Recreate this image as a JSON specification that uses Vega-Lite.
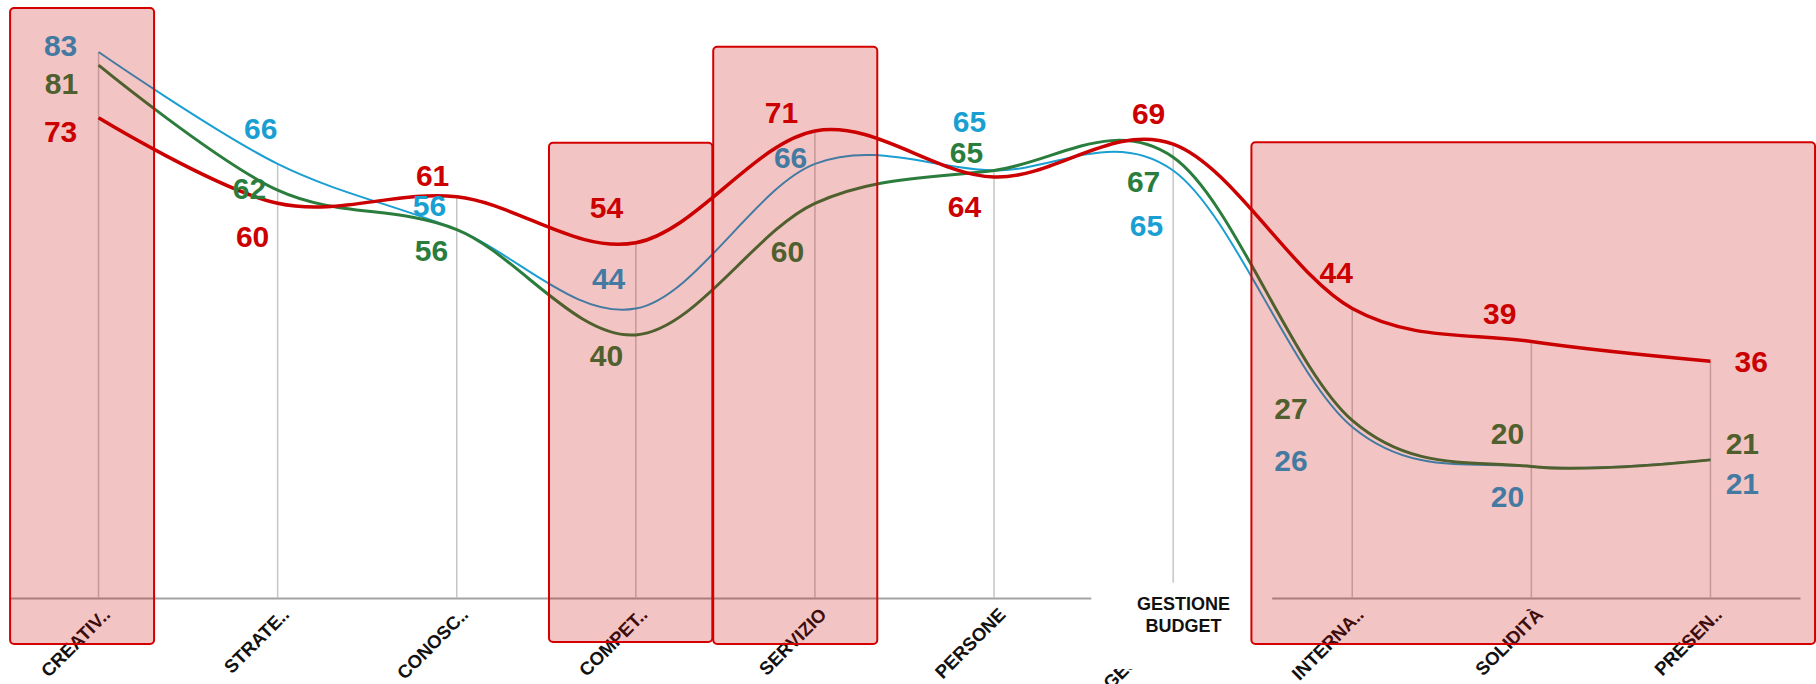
{
  "$schema": "https://vega.github.io/schema/vega-lite/v6.json",
  "width": 1791,
  "height": 592,
  "autosize": {"type": "none"},
  "padding": {"left": 9, "top": 6, "right": 16, "bottom": 86},
  "background": "white",
  "config": {
    "view": {"stroke": null},
    "font": "Liberation Sans",
    "axisX": {
      "grid": false,
      "ticks": false,
      "domainColor": "#a3a3a3",
      "domainWidth": 2,
      "labelAngle": -45,
      "labelAlign": "right",
      "labelBaseline": "middle",
      "labelFont": "Liberation Sans",
      "labelFontSize": 18.5,
      "labelFontWeight": "bold",
      "labelColor": "#111111",
      "labelPadding": 13,
      "labelOffset": 8,
      "labelLimit": 0,
      "labelOverlap": false,
      "zindex": 0,
      "title": null
    }
  },
  "datasets": {
    "scores": [
      {"categoria": "CREATIVITÀ", "pos": 0, "serie": "C", "valore": 83, "lx": -0.212, "ly": 83.7},
      {"categoria": "CREATIVITÀ", "pos": 0, "serie": "B", "valore": 81, "lx": -0.207, "ly": 78.0},
      {"categoria": "CREATIVITÀ", "pos": 0, "serie": "A", "valore": 73, "lx": -0.212, "ly": 70.7},
      {"categoria": "STRATEGIA", "pos": 1, "serie": "C", "valore": 66, "lx": 0.905, "ly": 71.1},
      {"categoria": "STRATEGIA", "pos": 1, "serie": "B", "valore": 62, "lx": 0.843, "ly": 62.0},
      {"categoria": "STRATEGIA", "pos": 1, "serie": "A", "valore": 60, "lx": 0.86, "ly": 54.7},
      {"categoria": "CONOSCENZA", "pos": 2, "serie": "C", "valore": 56, "lx": 1.848, "ly": 59.4},
      {"categoria": "CONOSCENZA", "pos": 2, "serie": "B", "valore": 56, "lx": 1.859, "ly": 52.6},
      {"categoria": "CONOSCENZA", "pos": 2, "serie": "A", "valore": 61, "lx": 1.865, "ly": 64.0},
      {"categoria": "COMPETENZA", "pos": 3, "serie": "C", "valore": 44, "lx": 2.848, "ly": 48.3},
      {"categoria": "COMPETENZA", "pos": 3, "serie": "B", "valore": 40, "lx": 2.836, "ly": 36.6},
      {"categoria": "COMPETENZA", "pos": 3, "serie": "A", "valore": 54, "lx": 2.836, "ly": 59.1},
      {"categoria": "SERVIZIO", "pos": 4, "serie": "C", "valore": 66, "lx": 3.864, "ly": 66.7},
      {"categoria": "SERVIZIO", "pos": 4, "serie": "B", "valore": 60, "lx": 3.847, "ly": 52.4},
      {"categoria": "SERVIZIO", "pos": 4, "serie": "A", "valore": 71, "lx": 3.813, "ly": 73.6},
      {"categoria": "PERSONE", "pos": 5, "serie": "C", "valore": 65, "lx": 4.863, "ly": 72.2},
      {"categoria": "PERSONE", "pos": 5, "serie": "B", "valore": 65, "lx": 4.846, "ly": 67.5},
      {"categoria": "PERSONE", "pos": 5, "serie": "A", "valore": 64, "lx": 4.835, "ly": 59.3},
      {"categoria": "GESTIONE BUDGET", "pos": 6, "serie": "C", "valore": 65, "lx": 5.851, "ly": 56.4},
      {"categoria": "GESTIONE BUDGET", "pos": 6, "serie": "B", "valore": 67, "lx": 5.835, "ly": 63.1},
      {"categoria": "GESTIONE BUDGET", "pos": 6, "serie": "A", "valore": 69, "lx": 5.863, "ly": 73.4},
      {"categoria": "INTERNAZIONALIZZAZIONE", "pos": 7, "serie": "C", "valore": 26, "lx": 6.658, "ly": 20.7},
      {"categoria": "INTERNAZIONALIZZAZIONE", "pos": 7, "serie": "B", "valore": 27, "lx": 6.658, "ly": 28.6},
      {"categoria": "INTERNAZIONALIZZAZIONE", "pos": 7, "serie": "A", "valore": 44, "lx": 6.91, "ly": 49.3},
      {"categoria": "SOLIDITÀ", "pos": 8, "serie": "C", "valore": 20, "lx": 7.867, "ly": 15.2},
      {"categoria": "SOLIDITÀ", "pos": 8, "serie": "B", "valore": 20, "lx": 7.867, "ly": 24.8},
      {"categoria": "SOLIDITÀ", "pos": 8, "serie": "A", "valore": 39, "lx": 7.823, "ly": 43.0},
      {"categoria": "PRESENZA", "pos": 9, "serie": "C", "valore": 21, "lx": 9.178, "ly": 17.2},
      {"categoria": "PRESENZA", "pos": 9, "serie": "B", "valore": 21, "lx": 9.178, "ly": 23.2},
      {"categoria": "PRESENZA", "pos": 9, "serie": "A", "valore": 36, "lx": 9.228, "ly": 35.7}
    ],
    "zones": [
      {"zona": "CREATIVITÀ", "x0": -0.494, "x1": 0.31, "y0": -7.0, "y1": 89.7},
      {"zona": "COMPETENZA", "x0": 2.515, "x1": 3.427, "y0": -6.7, "y1": 69.2},
      {"zona": "SERVIZIO", "x0": 3.432, "x1": 4.348, "y0": -7.0, "y1": 83.8},
      {"zona": "INTERNAZIONALIZZAZIONE-PRESENZA", "x0": 6.437, "x1": 9.584, "y0": -7.0, "y1": 69.3}
    ],
    "box": [
      {"testo": "GESTIONE\nBUDGET", "x0": 5.543, "x1": 6.553, "y0": -10.8, "y1": 2.3, "tx": 6.058, "ty": -1.0}
    ]
  },
  "layer": [
    {
      "data": {"name": "scores"},
      "transform": [{"aggregate": [{"op": "max", "field": "valore", "as": "top"}], "groupby": ["pos"]}],
      "mark": {"type": "rule", "color": "#c6c6c6", "strokeWidth": 1.5},
      "encoding": {
        "x": {
          "field": "pos", "type": "quantitative",
          "scale": {"domain": [-0.5, 9.5], "nice": false, "zero": false},
          "axis": {
            "values": [0, 1, 2, 3, 4, 5, 6, 7, 8, 9],
            "labelExpr": "['CREATIV..','STRATE..','CONOSC..','COMPET..','SERVIZIO','PERSONE','GESTIONE..','INTERNA..','SOLIDITÀ','PRESEN..'][datum.value]",
            "title": null
          }
        },
        "y": {"field": "top", "type": "quantitative", "scale": {"domain": [0, 90], "nice": false, "zero": false}, "axis": null},
        "y2": {"datum": 0}
      }
    },
    {
      "data": {"name": "scores"},
      "transform": [{"filter": "datum.serie == 'C'"}],
      "mark": {"type": "line", "interpolate": "cardinal", "color": "#1a9fd2", "strokeWidth": 2},
      "encoding": {
        "x": {"field": "pos", "type": "quantitative", "axis": {"title": null}},
        "y": {"field": "valore", "type": "quantitative", "axis": null}
      }
    },
    {
      "data": {"name": "scores"},
      "transform": [{"filter": "datum.serie == 'B'"}],
      "mark": {"type": "line", "interpolate": "cardinal", "color": "#2a7d3c", "strokeWidth": 3},
      "encoding": {
        "x": {"field": "pos", "type": "quantitative", "axis": {"title": null}},
        "y": {"field": "valore", "type": "quantitative", "axis": null}
      }
    },
    {
      "data": {"name": "scores"},
      "transform": [{"filter": "datum.serie == 'A'"}],
      "mark": {"type": "line", "interpolate": "cardinal", "color": "#cc0000", "strokeWidth": 3.5},
      "encoding": {
        "x": {"field": "pos", "type": "quantitative", "axis": {"title": null}},
        "y": {"field": "valore", "type": "quantitative", "axis": null}
      }
    },
    {
      "data": {"name": "scores"},
      "mark": {"type": "text", "font": "Liberation Sans", "fontSize": 30, "fontWeight": "bold", "align": "center", "baseline": "middle"},
      "encoding": {
        "x": {"field": "lx", "type": "quantitative", "axis": {"title": null}},
        "y": {"field": "ly", "type": "quantitative", "axis": null},
        "text": {"field": "valore", "type": "quantitative"},
        "color": {"field": "serie", "type": "nominal", "scale": {"domain": ["A", "B", "C"], "range": ["#cc0000", "#2a7d3c", "#1a9fd2"]}, "legend": null}
      }
    },
    {
      "data": {"name": "box"},
      "mark": {"type": "rect", "fill": "white"},
      "encoding": {
        "x": {"field": "x0", "type": "quantitative", "axis": {"title": null}},
        "x2": {"field": "x1"},
        "y": {"field": "y0", "type": "quantitative", "axis": null},
        "y2": {"field": "y1"}
      }
    },
    {
      "data": {"name": "box"},
      "mark": {"type": "text", "font": "Liberation Sans", "fontSize": 18, "fontWeight": "bold", "color": "#111111", "align": "center", "baseline": "middle", "lineBreak": "\n", "lineHeight": 22},
      "encoding": {
        "x": {"field": "tx", "type": "quantitative", "axis": {"title": null}},
        "y": {"field": "ty", "type": "quantitative", "axis": null},
        "text": {"field": "testo"}
      }
    },
    {
      "data": {"name": "zones"},
      "mark": {"type": "rect", "fill": "#cc0000", "fillOpacity": 0.23, "stroke": "#d40000", "strokeWidth": 2, "cornerRadius": 4},
      "encoding": {
        "x": {"field": "x0", "type": "quantitative", "axis": {"title": null}},
        "x2": {"field": "x1"},
        "y": {"field": "y0", "type": "quantitative", "axis": null},
        "y2": {"field": "y1"}
      }
    }
  ]
}
